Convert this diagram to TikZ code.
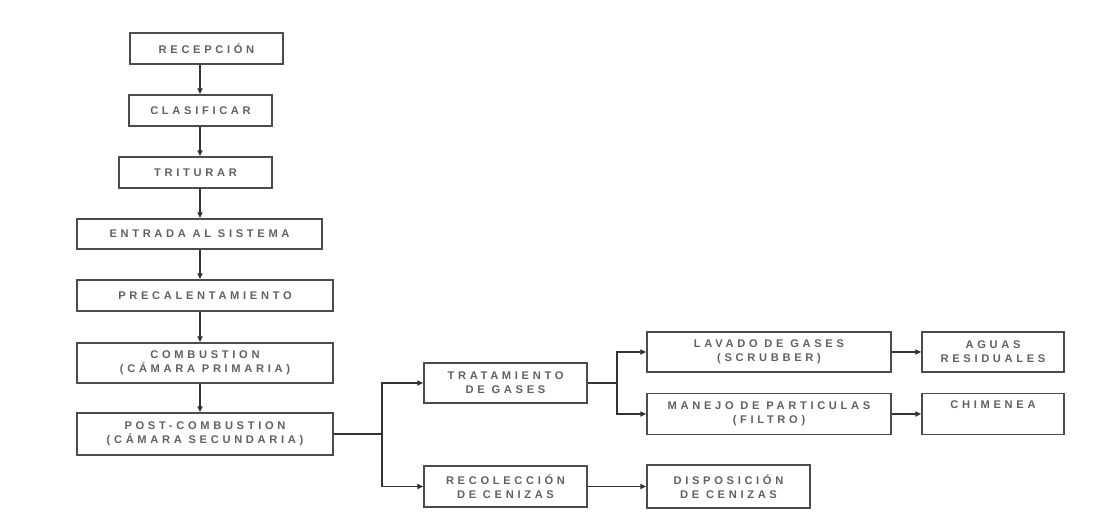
\documentclass[tikz,border=0pt]{standalone}
\usepackage{fontspec}
\setmainfont{Liberation Sans}[LetterSpace=33]
\usepackage{xcolor}
\usetikzlibrary{positioning,arrows.meta,calc}

\begin{document}
\begin{tikzpicture}[
    x=0.03cm, y=-0.03cm,
    font=\fontsize{9.5}{12}\selectfont\bfseries,
    box/.style={draw=black!70, line width=1.5pt, align=center, inner sep=2pt, text=black!62},
    wh/.style 2 args={minimum width=#1*0.03cm, minimum height=#2*0.03cm},
    conn/.style={draw=black!80, line width=1.1pt},
    arr/.style={conn, -{Triangle[length=5pt, width=4.5pt]}},
]
\useasboundingbox (0,0) rectangle (1109,517);

% main column
\node[box, wh={153}{31}] (rec) at (206.5,48.5) {RECEPCIÓN};
\node[box, wh={143}{31}] (clas) at (200.5,110.5) {CLASIFICAR};
\node[box, wh={153}{31}] (trit) at (195.5,172.5) {TRITURAR};
\node[box, wh={245}{30}] (ent) at (199.5,234) {ENTRADA AL SISTEMA};
\node[box, wh={256}{31}] (pre) at (205,295.5) {PRECALENTAMIENTO};
\node[box, wh={256}{40}] (comb) at (205,363) {COMBUSTION\\(CÁMARA PRIMARIA)};
\node[box, wh={256}{42}] (post) at (205,434) {POST-COMBUSTION\\(CÁMARA SECUNDARIA)};

% branches
\node[box, wh={163}{40}] (trat) at (505.5,383) {TRATAMIENTO\\DE GASES};
\node[box, wh={163}{41}] (recol) at (505.5,486.5) {RECOLECCIÓN\\DE CENIZAS};
\node[box, wh={244}{40}] (lav) at (769,352) {LAVADO DE GASES\\(SCRUBBER)};
\node[box, wh={244}{41}] (man) at (769,414) {MANEJO DE PARTICULAS\\(FILTRO)};
\node[box, wh={142}{40}] (agu) at (993,352) {AGUAS\\RESIDUALES};
\node[box, wh={142}{41}] (chim) at (993,414) {CHIMENEA\\\strut};
\node[box, wh={163}{43}] (disp) at (728.5,486.5) {DISPOSICIÓN\\DE CENIZAS};

\coordinate (spine) at (200,0);
\coordinate (j1) at (382,434);
\coordinate (j2) at (617,383);

\draw[arr] (rec.south -| spine) -- (clas.north -| spine);
\draw[arr] (clas.south -| spine) -- (trit.north -| spine);
\draw[arr] (trit.south -| spine) -- (ent.north -| spine);
\draw[arr] (ent.south -| spine) -- (pre.north -| spine);
\draw[arr] (pre.south -| spine) -- (comb.north -| spine);
\draw[arr] (comb.south -| spine) -- (post.north -| spine);
\draw[conn] (post.east) -- (j1);
\draw[arr] (j1) |- (trat.west);
\draw[arr] (j1) |- (recol.west);
\draw[conn] (trat.east) -- (j2);
\draw[arr] (j2) |- (lav.west);
\draw[arr] (j2) |- (man.west);
\draw[arr] (lav.east) -- (agu.west);
\draw[arr] (man.east) -- (chim.west);
\draw[arr] (recol.east) -- (disp.west);
\end{tikzpicture}
\end{document}
